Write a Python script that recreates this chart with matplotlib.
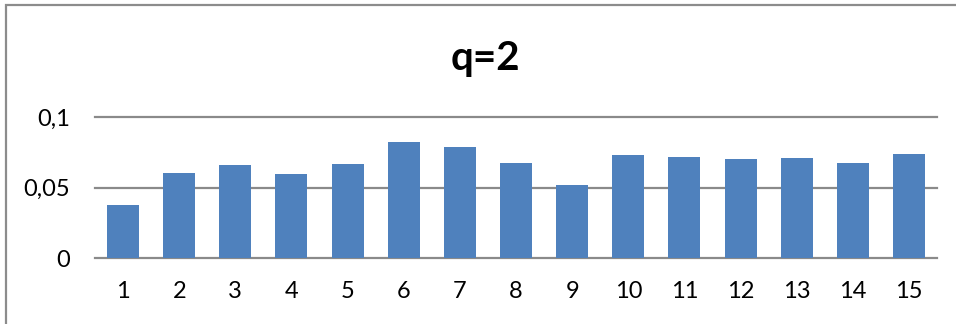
import matplotlib
matplotlib.use("Agg")
import matplotlib.pyplot as plt
from matplotlib.patches import Rectangle

categories = [str(i) for i in range(1, 16)]
values = [0.0380, 0.0607, 0.0660, 0.0598, 0.0667, 0.0823, 0.0789, 0.0674,
          0.0520, 0.0730, 0.0716, 0.0702, 0.0711, 0.0674, 0.0742]
y_ticks = [0, 0.05, 0.1]
y_tick_labels = ["0", "0,05", "0,1"]
title = "q=2"

plt.rcParams["font.family"] = ["Lato", "DejaVu Sans"]

W, H = 956, 324
fig = plt.figure(figsize=(W / 100, H / 100), dpi=100)
fig.patch.set_facecolor("white")

ax = fig.add_axes([95 / W, 1 - 258.3 / H, (937 - 95) / W, (258.3 - 117.3) / H])
x = list(range(len(categories)))
ax.bar(x, values, width=0.57, color="#4F81BD", zorder=3)
ax.set_xlim(-0.5, len(categories) - 0.5)
ax.set_ylim(0, 0.1)
ax.set_yticks(y_ticks)
ax.set_yticklabels(y_tick_labels)
ax.set_xticks(x)
ax.set_xticklabels(categories)
ax.tick_params(axis="both", length=0, labelsize=17, colors="black")
ax.tick_params(axis="y", pad=18)
ax.tick_params(axis="x", pad=16)
for y in y_ticks:
    ax.axhline(y, color="#8a8a8a", lw=1.6, zorder=1, clip_on=False)
for s in ax.spines.values():
    s.set_visible(False)

fig.text(485 / W, 1 - 70 / H, title, ha="center", va="baseline",
         fontsize=29, fontweight="bold")

# chart frame (left and top edges visible)
fig.add_artist(Rectangle((5.5 / W, -0.1), 1.2, 1.1 - 5.5 / H, transform=fig.transFigure,
                         fill=False, edgecolor="#8c8c8c", lw=1.6))

fig.savefig("out.png", dpi=100, facecolor="white")
